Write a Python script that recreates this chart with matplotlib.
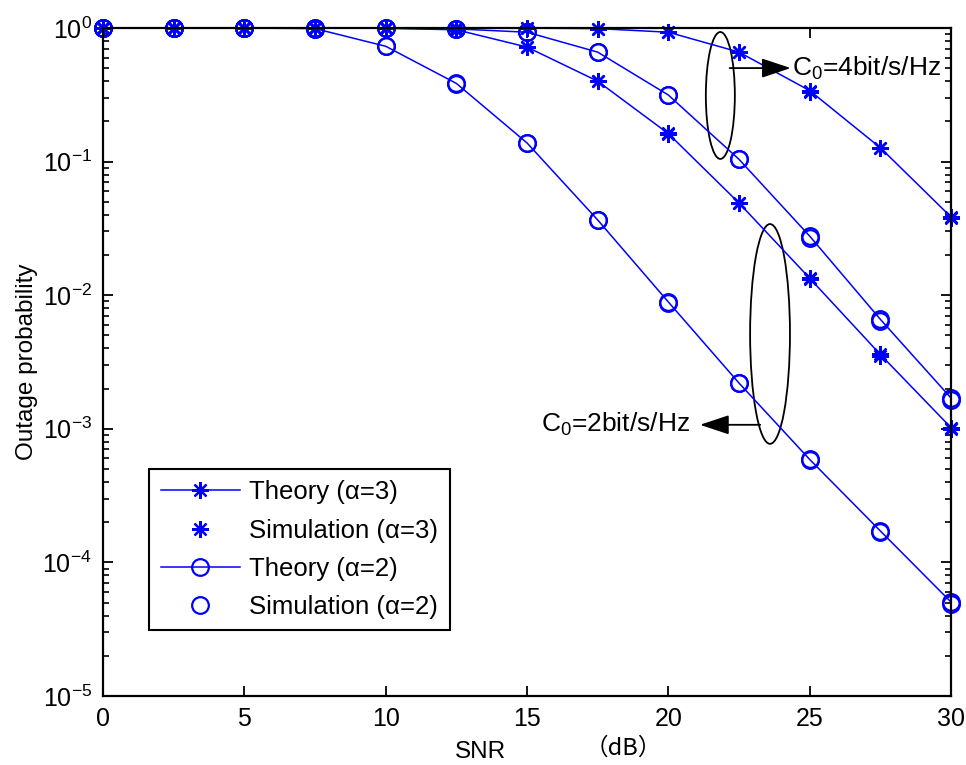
import numpy as np
import matplotlib
matplotlib.use("Agg")
import matplotlib.pyplot as plt
from matplotlib.patches import Ellipse
from matplotlib.ticker import LogLocator, FixedLocator, NullFormatter

plt.rcParams['font.family'] = ['Liberation Sans', 'DejaVu Sans']
plt.rcParams['mathtext.fontset'] = 'custom'
plt.rcParams['mathtext.rm'] = 'Liberation Sans'
plt.rcParams['mathtext.it'] = 'Liberation Sans:italic'
plt.rcParams['mathtext.bf'] = 'Liberation Sans:bold'

# ---- data ----
snr = [0, 2.5, 5, 7.5, 10, 12.5, 15, 17.5, 20, 22.5, 25, 27.5, 30]

# C0 = 2 bit/s/Hz
theory_a3_c2 = [1.0, 1.0, 1.0, 1.0, 0.995, 0.97, 0.72, 0.40, 0.162, 0.049, 0.0134, 0.0036, 0.00102]
sim_a3_c2    = [1.0, 1.0, 1.0, 1.0, 0.995, 0.97, 0.72, 0.40, 0.163, 0.049, 0.0132, 0.0035, 0.00100]
theory_a2_c2 = [1.0, 1.0, 1.0, 0.99, 0.73, 0.385, 0.138, 0.0366, 0.0089, 0.0022, 5.9e-4, 1.72e-4, 5.05e-5]
sim_a2_c2    = [1.0, 1.0, 1.0, 0.99, 0.73, 0.383, 0.137, 0.0368, 0.0088, 0.00222, 5.8e-4, 1.70e-4, 4.9e-5]

# C0 = 4 bit/s/Hz
theory_a3_c4 = [1.0, 1.0, 1.0, 1.0, 1.0, 1.0, 0.998, 0.99, 0.93, 0.66, 0.34, 0.127, 0.0385]
sim_a3_c4    = [1.0, 1.0, 1.0, 1.0, 1.0, 1.0, 0.998, 0.99, 0.93, 0.66, 0.33, 0.127, 0.0380]
theory_a2_c4 = [1.0, 1.0, 1.0, 1.0, 0.998, 0.985, 0.93, 0.66, 0.315, 0.104, 0.0277, 0.0066, 0.0017]
sim_a2_c4    = [1.0, 1.0, 1.0, 1.0, 0.998, 0.985, 0.93, 0.66, 0.315, 0.104, 0.0268, 0.0064, 0.00163]

labels = ['Theory (\u03b1=3)', 'Simulation (\u03b1=3)', 'Theory (\u03b1=2)', 'Simulation (\u03b1=2)']
xticks = [0, 5, 10, 15, 20, 25, 30]

# ---- figure ----
fig = plt.figure(figsize=(9.66, 7.65), dpi=100)
ax = fig.add_axes([103/966, 1-696/765, 848/966, 668/765])

blue = '#0000ff'
star = (8, 2, 0)
ms = 12
mew = 1.6
lw = 1.1

h1, = ax.plot(snr, theory_a3_c2, color=blue, lw=lw, marker=star, ms=ms, mew=mew, clip_on=False)
h2, = ax.plot(snr, sim_a3_c2, ls='none', color=blue, marker=star, ms=ms, mew=mew, clip_on=False)
h3, = ax.plot(snr, theory_a2_c2, color=blue, lw=lw, marker='o', ms=ms, mew=mew, mfc='none', clip_on=False)
h4, = ax.plot(snr, sim_a2_c2, ls='none', color=blue, marker='o', ms=ms, mew=mew, mfc='none', clip_on=False)
ax.plot(snr, theory_a3_c4, color=blue, lw=lw, marker=star, ms=ms, mew=mew, clip_on=False)
ax.plot(snr, sim_a3_c4, ls='none', color=blue, marker=star, ms=ms, mew=mew, clip_on=False)
ax.plot(snr, theory_a2_c4, color=blue, lw=lw, marker='o', ms=ms, mew=mew, mfc='none', clip_on=False)
ax.plot(snr, sim_a2_c4, ls='none', color=blue, marker='o', ms=ms, mew=mew, mfc='none', clip_on=False)

ax.set_yscale('log')
ax.set_xlim(0, 30)
ax.set_ylim(1e-5, 1)
ax.xaxis.set_major_locator(FixedLocator(xticks))
ax.yaxis.set_major_locator(LogLocator(base=10, numticks=10))
ax.yaxis.set_minor_locator(LogLocator(base=10, subs=np.arange(2, 10), numticks=20))
ax.yaxis.set_minor_formatter(NullFormatter())

ax.tick_params(axis='both', which='major', direction='in', length=7, width=1.3,
               top=True, right=True, labelsize=18, pad=8, colors='black')
ax.tick_params(axis='y', which='minor', direction='in', length=4.5, width=1.2,
               left=True, right=True)
for s in ax.spines.values():
    s.set_linewidth(1.6)

ax.set_ylabel('Outage probability', fontsize=17.5)
ax.yaxis.set_label_coords(-0.077, 0.5)

fig.text(480/966, 1-752/765, 'SNR', fontsize=17.5, ha='center', va='center')
fig.text(623/966, 1-748/765, '\uff08dB\uff09', fontsize=17, ha='center', va='center',
         family=['Noto Sans CJK SC', 'DejaVu Sans'])

# annotations (ellipses + arrows)
ax.add_patch(Ellipse((0.728, 0.899), 0.0342, 0.190, transform=ax.transAxes,
                     fill=False, ec='black', lw=1.3))
ax.add_patch(Ellipse((0.7866, 0.542), 0.047, 0.329, transform=ax.transAxes,
                     fill=False, ec='black', lw=1.3))
arrow_style = '-|>,head_length=1.8,head_width=0.6'
ax.annotate('', xy=(0.811, 0.940), xytext=(0.739, 0.940), xycoords='axes fraction',
            arrowprops=dict(arrowstyle=arrow_style, color='black', lw=1.3,
                            shrinkA=0, shrinkB=0))
ax.text(0.812, 0.940, 'C$_0$=4bit/s/Hz', transform=ax.transAxes, fontsize=19,
        ha='left', va='center')
ax.annotate('', xy=(0.704, 0.406), xytext=(0.775, 0.406), xycoords='axes fraction',
            arrowprops=dict(arrowstyle=arrow_style, color='black', lw=1.3,
                            shrinkA=0, shrinkB=0))
ax.text(0.692, 0.406, 'C$_0$=2bit/s/Hz', transform=ax.transAxes, fontsize=19,
        ha='right', va='center')

leg = ax.legend([h1, h2, h3, h4], labels, loc='upper left',
                bbox_to_anchor=(0.0542, 0.340), borderaxespad=0, fontsize=18.5,
                handlelength=3.1, handletextpad=0.36, labelspacing=0.55,
                borderpad=0.45, fancybox=False, framealpha=1, edgecolor='black')
leg.get_frame().set_linewidth(1.5)

fig.savefig('out.png', dpi=100)
